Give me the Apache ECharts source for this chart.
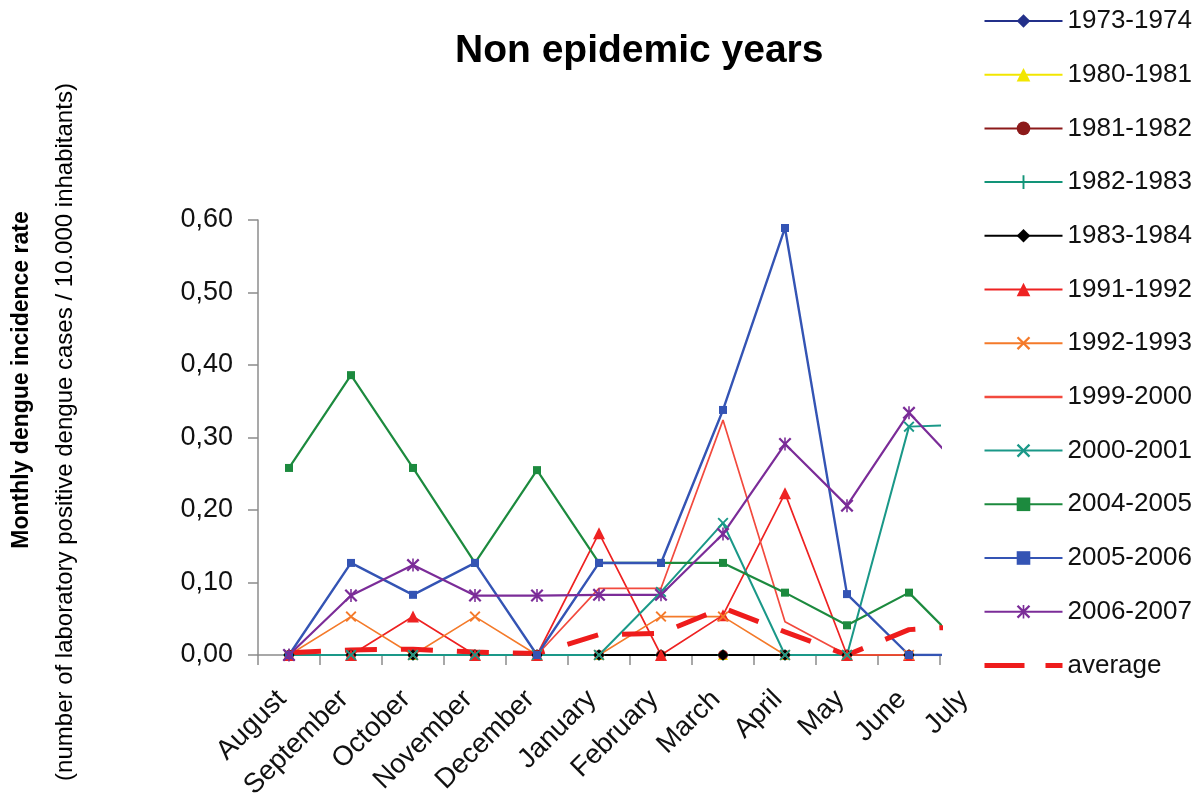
<!DOCTYPE html>
<html>
<head>
<meta charset="utf-8">
<script src="https://cdn.jsdelivr.net/npm/echarts@6/dist/echarts.min.js"></script>
<style>
html,body{margin:0;padding:0;background:#fff;}
#chart{width:1199px;height:804px;}
</style>
</head>
<body>
<div id="chart"></div>
<script>
var months = ['August','September','October','November','December','January','February','March','April','May','June','July'];
var yTicks = [0, 0.1, 0.2, 0.3, 0.4, 0.5, 0.6];

var s1973 = [0,0,0,0,0,0,0,0,0,0,0,0];
var s1980 = [0,0,0,0,0,0,0,0,0,0,0,0];
var s1981 = [0,0,0,0,0,0,0,0,0,0,0,0];
var s1982 = [0,0,0,0,0,0,0,0,0,0,0,0];
var s1983 = [0,0,0,0,0,0,0,0,0,0,0,0];
var s1991 = [0,0,0.053,0,0,0.168,0,0.055,0.223,0,0,0];
var s1992 = [0,0.053,0,0.053,0,0,0.053,0.053,0,0,0,0];
var s1999 = [0,0,0,0,0,0.092,0.092,0.324,0.046,0,0,0];
var s2000 = [0,0,0,0,0,0,0.087,0.182,0,0,0.315,0.318];
var s2004 = [0.258,0.386,0.258,0.127,0.255,0.127,0.127,0.127,0.086,0.041,0.086,0];
var s2005 = [0,0.127,0.083,0.127,0,0.127,0.127,0.338,0.589,0.084,0,0];
var s2006 = [0,0.082,0.124,0.082,0.082,0.083,0.083,0.167,0.291,0.206,0.334,0.243];
var sAvg  = [0.003,0.007,0.008,0.004,0.002,0.028,0.030,0.065,0.032,0,0.035,0.040];

var FONT = '"Liberation Sans", Arial, sans-serif';
var X_PATH = 'path://M0,1.2 L1.2,0 L5,3.8 L8.8,0 L10,1.2 L6.2,5 L10,8.8 L8.8,10 L5,6.2 L1.2,10 L0,8.8 L3.8,5 Z';
var PLUS_PATH = 'path://M4.3,0 L5.7,0 L5.7,4.3 L10,4.3 L10,5.7 L5.7,5.7 L5.7,10 L4.3,10 L4.3,5.7 L0,5.7 L0,4.3 L4.3,4.3 Z';
var AST_PATH = 'path://M0,1.2 L1.2,0 L5,3.8 L8.8,0 L10,1.2 L6.2,5 L10,8.8 L8.8,10 L5,6.2 L1.2,10 L0,8.8 L3.8,5 Z M4.4,0 L5.6,0 L5.6,10 L4.4,10 Z';

function mk(name, data, color, symbol, size, width, extra) {
  var s = {
    name: name, type: 'line', data: data,
    xAxisIndex: 0, yAxisIndex: 0,
    clip: true,
    symbol: symbol, symbolSize: size, showSymbol: symbol !== 'none',
    lineStyle: {color: color, width: width},
    itemStyle: {color: color},
    emphasis: {disabled: true},
    animation: false
  };
  if (extra) { for (var k in extra) s[k] = extra[k]; }
  return s;
}

var series = [
  mk('1973-1974', s1973, '#23308a', 'diamond', 10, 2),
  mk('1980-1981', s1980, '#f2e600', 'triangle', 10, 2),
  mk('1981-1982', s1981, '#8c1a1a', 'circle', 10, 2),
  mk('1982-1983', s1982, '#129478', PLUS_PATH, 11, 2),
  mk('1983-1984', s1983, '#000000', 'diamond', 11, 2),
  mk('1991-1992', s1991, '#ee2222', 'triangle', 12, 1.7),
  mk('1992-1993', s1992, '#f47a2a', X_PATH, 11, 1.6),
  mk('1999-2000', s1999, '#f24a3e', 'none', 0, 1.7),
  mk('2000-2001', s2000, '#1a9888', X_PATH, 11, 2),
  mk('2004-2005', s2004, '#1c8a3e', 'rect', 8, 2.2),
  mk('2005-2006', s2005, '#3454b4', 'rect', 8, 2.4),
  mk('2006-2007', s2006, '#7b2c98', AST_PATH, 13, 2.2),
  mk('average', sAvg, '#ee1c1c', 'none', 0, 5, {lineStyle: {color: '#ee1c1c', width: 5, type: [32, 24]}})
];

var hidden = {color: 'rgba(0,0,0,0)', borderColor: 'rgba(0,0,0,0)', opacity: 0};
var legendData = series.map(function (s) {
  if (s.name === '1999-2000') {
    return {name: s.name, itemStyle: hidden, lineStyle: {color: '#f24a3e', width: 2.5}};
  }
  if (s.name === 'average') {
    return {name: s.name, itemStyle: hidden, lineStyle: {color: '#ee1c1c', width: 5, type: [40, 21]}};
  }
  return {name: s.name};
});

var option = {
  backgroundColor: '#ffffff',
  animation: false,
  textStyle: {fontFamily: FONT},
  title: {
    text: 'Non epidemic years',
    left: 450, top: 27,
    textStyle: {fontFamily: FONT, fontSize: 39, fontWeight: 'bold', color: '#000'}
  },
  legend: {
    orient: 'vertical',
    left: 977, top: 3,
    itemWidth: 78, itemHeight: 17, itemGap: 27.7,
    selectedMode: false,
    textStyle: {fontFamily: FONT, fontSize: 26, color: '#111'},
    data: legendData
  },
  grid: [
    {left: 258, right: 259, top: 220, bottom: 149, containLabel: false},
    {left: 251, top: 220, width: 744, bottom: 149, containLabel: false}
  ],
  xAxis: [
    {
      gridIndex: 0, type: 'category', data: months, min: 0, max: 10, boundaryGap: true,
      axisLine: {show: true, lineStyle: {color: '#8c8c8c', width: 1.5}},
      axisTick: {show: true, length: 10, interval: 0, lineStyle: {color: '#8c8c8c', width: 1.5}},
      axisLabel: {show: false},
      splitLine: {show: false}
    },
    {
      gridIndex: 1, type: 'category', data: months, boundaryGap: true,
      axisLine: {show: false}, axisTick: {show: false}, splitLine: {show: false},
      axisLabel: {show: true, interval: 0, rotate: 45, margin: 40, fontSize: 27.5, color: '#111', fontFamily: FONT}
    }
  ],
  yAxis: [
    {
      gridIndex: 0, type: 'value', min: yTicks[0], max: yTicks[yTicks.length - 1], interval: 0.1,
      axisLine: {show: true, lineStyle: {color: '#8c8c8c', width: 1.5}},
      axisTick: {show: true, length: 10, lineStyle: {color: '#8c8c8c', width: 1.5}},
      splitLine: {show: false},
      axisLabel: {
        margin: 25, fontSize: 27, color: '#111', fontFamily: FONT,
        formatter: function (v) { return v.toFixed(2).replace('.', ','); }
      }
    },
    {gridIndex: 1, type: 'value', min: 0, max: 1, show: false}
  ],
  graphic: [
    {
      type: 'text', x: 22, y: 380, rotation: Math.PI / 2,
      style: {text: 'Monthly dengue incidence rate', font: 'bold 23px ' + FONT, fill: '#000', align: 'center', verticalAlign: 'middle'}
    },
    {
      type: 'text', x: 65, y: 432, rotation: Math.PI / 2,
      style: {text: '(number of laboratory positive dengue cases / 10.000 inhabitants)', font: '24px ' + FONT, fill: '#000', align: 'center', verticalAlign: 'middle'}
    }
  ],
  series: series
};

var chart = echarts.init(document.getElementById('chart'), null, {renderer: 'canvas'});
chart.setOption(option);
</script>
</body>
</html>
